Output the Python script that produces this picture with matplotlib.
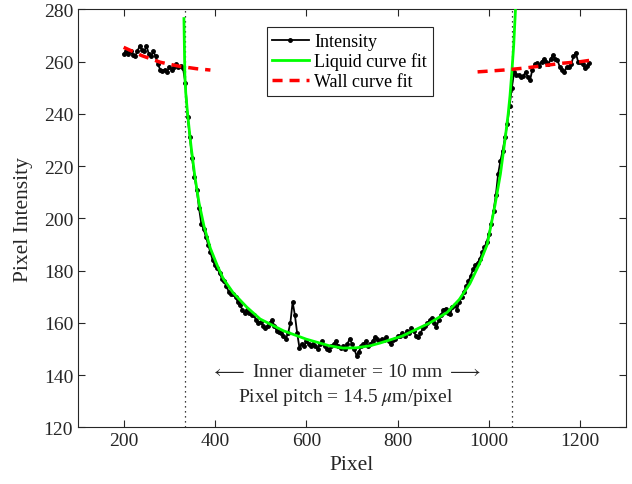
import matplotlib
matplotlib.use('Agg')
import matplotlib.pyplot as plt

plt.rcParams['font.family'] = ['Liberation Serif', 'DejaVu Serif']
plt.rcParams['mathtext.fontset'] = 'stix'

# ---- data ----
pixel = list(range(200, 1221, 5))
intensity = [
    263, 264, 263, 264, 262.5, 262, 264, 266, 264.5, 264, 266, 263, 262, 264, 262, 259, 257, 256.5, 257, 256,
    258, 257, 258, 259, 258, 258.5, 257.5, 252, 239, 231, 223, 216, 211, 204, 198, 196, 193, 190, 187, 184,
    182, 181, 179, 177, 176, 174, 172, 171, 171, 170, 168, 167, 165, 164, 165, 164, 163, 163, 161, 160,
    160.5, 159, 158, 159, 160, 161, 159, 157, 156.5, 156, 155, 154, 156, 160, 168, 163, 156, 150.5, 152, 151,
    153, 152, 151, 152, 151, 150, 152, 153, 151, 150, 149.5, 151, 152, 153, 151, 150.5, 151, 150, 152, 154,
    152, 150, 147.5, 149, 151, 152, 153, 151, 152, 153, 154.5, 154, 153, 154, 153.5, 154.5, 153, 152, 153.5, 154,
    155, 155, 156, 155, 157, 156, 158, 157, 155, 154.5, 156, 158, 159, 160, 161, 162, 160, 158.5, 161, 163,
    165, 165.5, 164, 163.5, 166, 167, 165, 168, 170, 172, 174, 176, 178, 180.5, 182, 183, 184.5, 187, 189, 191,
    194, 198, 203, 209, 217, 222, 226, 231, 236, 243, 250, 256, 255, 255, 254, 254.5, 256, 254, 253, 257,
    259, 259.5, 258.5, 260, 261, 260, 259, 261, 262.5, 261, 260.5, 258, 257, 256, 258, 258, 259, 262, 263.5, 260,
    260, 259, 257.5, 258.5, 259.5,
]

liquid_x = [332, 334, 336, 339, 343, 348, 356, 365, 376, 390, 405, 418, 440, 470, 499, 550, 600, 650,
            680, 710, 740, 761, 783, 810, 834, 870, 908, 935, 958, 980, 996, 1013, 1025, 1035, 1042,
            1046, 1050, 1054, 1058]
liquid_y = [276.5, 255, 248, 242, 235, 227, 216, 206, 197, 188.5, 182, 177, 171.5, 166, 161.5, 157,
            153.8, 151.3, 150.4, 150.5, 151.3, 152.3, 153.5, 155, 157, 160, 164, 169, 175, 183, 190,
            205, 217, 230, 240, 247, 256, 266, 280]

wall_left_x = [200, 240, 280, 320, 360, 390]
wall_left_y = [265.5, 262.3, 259.8, 258.3, 257.3, 256.8]
wall_right_x = [975, 1000, 1040, 1080, 1120, 1160, 1200, 1220]
wall_right_y = [256.1, 256.4, 256.9, 257.6, 258.5, 259.4, 260.0, 260.5]

edge_pixels = [335, 1050]

xticks = [200, 400, 600, 800, 1000, 1200]
yticks = [120, 140, 160, 180, 200, 220, 240, 260, 280]

# ---- plot ----
fig = plt.figure(figsize=(6.32, 4.85), dpi=100)
ax = fig.add_axes([0.1234, 0.1165, 0.8671, 0.862])

for xe in edge_pixels:
    ax.axvline(xe, color='black', linestyle=(0, (1, 3)), linewidth=0.9, zorder=1)

ax.plot(pixel, intensity, color='black', marker='.', markersize=5, linewidth=1.3,
        label='Intensity', zorder=2)
ax.plot(liquid_x, liquid_y, color=(0, 1, 0), linewidth=2.0, label='Liquid curve fit', zorder=3)
ax.plot(wall_left_x, wall_left_y, color='red', linewidth=2.5, linestyle=(0, (2.9, 2.0)),
        label='Wall curve fit', zorder=4)
ax.plot(wall_right_x, wall_right_y, color='red', linewidth=2.5, linestyle=(0, (2.9, 2.0)), zorder=4)

ax.set_xlim(100, 1300)
ax.set_ylim(120, 280)
ax.set_xticks(xticks)
ax.set_yticks(yticks)

dark = (0.15, 0.15, 0.15)
for s in ax.spines.values():
    s.set_color(dark)
    s.set_linewidth(0.8)
ax.tick_params(direction='in', top=True, right=True, length=5, width=0.8,
               colors=dark, labelsize=14, labelcolor=dark)

ax.set_xlabel('Pixel', fontsize=15.5, color=dark, labelpad=4)
ax.set_ylabel('Pixel Intensity', fontsize=15.5, color=dark, labelpad=8)

ax.text(687, 141.4, r'$\longleftarrow$ Inner diameter = 10 mm $\longrightarrow$',
        ha='center', va='center', fontsize=14, color=dark)
ax.text(687, 132, r'Pixel pitch = 14.5 $\mu$m/pixel',
        ha='center', va='center', fontsize=14, color=dark)

leg = ax.legend(loc='upper center', bbox_to_anchor=(0.4955, 0.957), fontsize=13,
                frameon=True, fancybox=False, framealpha=1, edgecolor=dark,
                handlelength=2.05, handletextpad=0.3, labelspacing=0.15,
                borderpad=0.3, borderaxespad=0)
leg.get_frame().set_linewidth(0.8)

fig.savefig('out.png', dpi=100)
